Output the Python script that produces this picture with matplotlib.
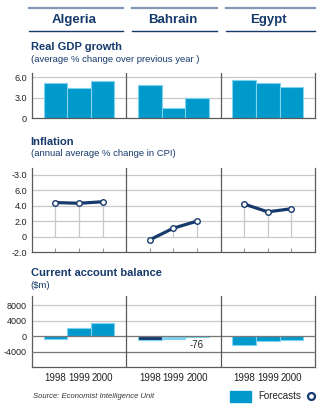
import matplotlib
matplotlib.use("Agg")
import matplotlib.pyplot as plt
from matplotlib.lines import Line2D
from matplotlib.patches import Rectangle

countries = ["Algeria", "Bahrain", "Egypt"]
years = ["1998", "1999", "2000"]

gdp_growth = {
    "Algeria": [5.2, 4.4, 5.5],
    "Bahrain": [4.8, 1.4, 2.9],
    "Egypt": [5.6, 5.1, 4.5],
}
inflation = {
    "Algeria": [4.4, 4.3, 4.5],
    "Bahrain": [-0.4, 1.1, 2.0],
    "Egypt": [4.2, 3.2, 3.6],
}
current_account = {
    "Algeria": [-700, 2100, 3400],
    "Bahrain": [-1050, -700, -76],
    "Egypt": [-2300, -1300, -1050],
}

gdp_ticks = [0, 3, 6]
gdp_ticklabels = ["0", "3.0", "6.0"]
infl_ticks = [-2, 0, 2, 4, 6, 8]
infl_ticklabels = ["-2.0", "0", "2.0", "4.0", "6.0", "-3.0"]
ca_ticks = [-4000, 0, 4000, 8000]
ca_ticklabels = ["-4000", "0", "4000", "8000"]

NAVY = "#163a6b"
BLUE = "#0099cc"
LIGHT = "#7fd3ef"
GRID = "#c8c8c8"
DARK = "#5a5a5a"

plt.rcParams["font.family"] = ["Liberation Sans", "DejaVu Sans"]

W, H = 323, 417
fig = plt.figure(figsize=(W / 100, H / 100), dpi=100)


def fx(x):
    return x / W


def fy(y):
    return 1 - y / H


def make_axes(top, bottom):
    ax = fig.add_axes([fx(31.7), fy(bottom), fx(315 - 31.7), (bottom - top) / H])
    ax.set_xlim(0, 12)
    for s in ["top"]:
        ax.spines[s].set_visible(False)
    for s in ["left", "right", "bottom"]:
        ax.spines[s].set_color(DARK)
        ax.spines[s].set_linewidth(0.9)
    for xd in [4, 8]:
        ax.axvline(xd, color=DARK, lw=0.9, zorder=4)
    ax.tick_params(axis="y", length=0, pad=3.5, labelsize=6.5, labelcolor="#222")
    return ax


xs = {c: [4 * i + 1, 4 * i + 2, 4 * i + 3] for i, c in enumerate(countries)}

# header
for i, c in enumerate(countries):
    x0, x1 = [(29.3, 123.3), (131.7, 217.3), (225.7, 315)][i]
    fig.add_artist(Line2D([fx(x0), fx(x1)], [fy(8.3), fy(8.3)], color="#8098b4", lw=1.6))
    fig.add_artist(Line2D([fx(x0), fx(x1)], [fy(31), fy(31)], color=NAVY, lw=1.0))
    fig.text(fx((x0 + x1) / 2 - 2), fy(20), c, ha="center", va="center",
             fontsize=9.5, fontweight="bold", color=NAVY)

# GDP growth
fig.text(fx(30.7), fy(46.7), "Real GDP growth", fontsize=8, fontweight="bold",
         color=NAVY, va="center")
fig.text(fx(30.7), fy(60), "(average % change over previous year )", fontsize=6.8,
         color=NAVY, va="center")
ax1 = make_axes(73, 118)
ax1.set_ylim(0, 6.63)
for g in [3, 6]:
    ax1.axhline(g, color=GRID, lw=0.9, zorder=0)
for c in countries:
    ax1.bar(xs[c], gdp_growth[c], width=1, color=BLUE, edgecolor=LIGHT, lw=0.8, zorder=2)
ax1.set_yticks(gdp_ticks)
ax1.set_yticklabels(gdp_ticklabels)
ax1.set_xticks([])

# Inflation
fig.text(fx(30.7), fy(141.7), "Inflation", fontsize=8, fontweight="bold",
         color=NAVY, va="center")
fig.text(fx(30.7), fy(154), "(annual average % change in CPI)", fontsize=6.8,
         color=NAVY, va="center")
ax2 = make_axes(168.3, 252.3)
ax2.set_ylim(-2, 8.8)
for g in [0, 2, 4, 6, 8]:
    ax2.axhline(g, color=GRID, lw=0.9, zorder=0)
for c in countries:
    ax2.vlines(xs[c], 0, inflation[c], color=GRID, lw=0.9, zorder=1)
    ax2.plot(xs[c], inflation[c], color=NAVY, lw=2.3, zorder=3, solid_capstyle="butt")
    ax2.plot(xs[c], inflation[c], "o", ms=4, mfc="white", mec=NAVY, mew=1.0, zorder=5)
ax2.set_yticks(infl_ticks)
ax2.set_yticklabels(infl_ticklabels)
ax2.set_xticks(xs["Algeria"] + xs["Bahrain"] + xs["Egypt"])
ax2.set_xticklabels([])
ax2.tick_params(axis="x", direction="in", length=3, width=0.8, color="#999999")

# Current account
fig.text(fx(30.7), fy(272.7), "Current account balance", fontsize=8, fontweight="bold",
         color=NAVY, va="center")
fig.text(fx(30.7), fy(285), "($m)", fontsize=6.8, color=NAVY, va="center")
ax3 = make_axes(296, 367)
ax3.set_ylim(-8000, 10450)
for g in [4000, 8000]:
    ax3.axhline(g, color=GRID, lw=0.9, zorder=0)
for g in [0, -4000]:
    ax3.axhline(g, color="#777777", lw=0.9, zorder=3)
bar_colors = {
    "Algeria": [BLUE, BLUE, BLUE],
    "Bahrain": [NAVY, LIGHT, BLUE],
    "Egypt": [BLUE, BLUE, BLUE],
}
for c in countries:
    ax3.bar(xs[c], current_account[c], width=1, color=bar_colors[c],
            edgecolor=LIGHT, lw=0.8, zorder=2)
ax3.annotate(str(current_account["Bahrain"][2]), xy=(xs["Bahrain"][2], 0),
             xytext=(0, -2.5), textcoords="offset points", ha="center", va="top",
             fontsize=7, color="#222")
ax3.set_yticks(ca_ticks)
ax3.set_yticklabels(ca_ticklabels)
ax3.set_xticks(xs["Algeria"] + xs["Bahrain"] + xs["Egypt"])
ax3.set_xticklabels(years * 3)
ax3.tick_params(axis="x", length=0, pad=4, labelsize=7, labelcolor="#222")

# source & legend
fig.text(fx(33.3), fy(396.7), "Source: Economist Intelligence Unit", fontsize=5.5,
         style="italic", color="#333", va="center")
fig.add_artist(Rectangle((fx(230), fy(401.7)), fx(20.7), 10.7 / H, color=BLUE,
                         transform=fig.transFigure))
fig.text(fx(258.7), fy(396), "Forecasts", fontsize=7, color="#222", va="center")
fig.add_artist(Line2D([fx(311)], [fy(396)], marker="o", ms=5, mfc="white",
                      mec=NAVY, mew=1.6, transform=fig.transFigure))

fig.savefig("out.png", dpi=100)
